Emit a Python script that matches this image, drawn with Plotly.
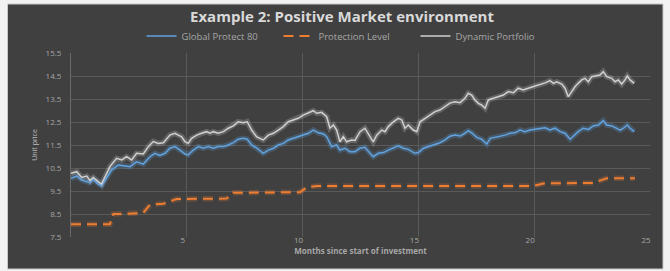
import plotly.graph_objects as go

# ---- data ----
gp_months = [0.0, 0.25, 0.46, 0.82, 0.96, 1.18, 1.32, 1.47, 1.75, 2.04, 2.26, 2.55, 2.83, 3.12, 3.41, 3.62,
             3.84, 4.06, 4.27, 4.49, 4.71, 4.92, 5.06, 5.28, 5.5, 5.72, 5.93, 6.14, 6.36, 6.58, 6.79, 7.01,
             7.22, 7.44, 7.61, 7.8, 8.02, 8.3, 8.52, 8.74, 8.95, 9.17, 9.38, 9.6, 9.81, 10.03, 10.25, 10.46,
             10.68, 10.9, 11.04, 11.25, 11.47, 11.61, 11.83, 12.04, 12.26, 12.48, 12.69, 12.91, 13.05, 13.27,
             13.49, 13.7, 13.92, 14.13, 14.35, 14.56, 14.85, 15.0, 15.22, 15.5, 15.72, 15.93, 16.15, 16.36,
             16.58, 16.8, 17.01, 17.15, 17.3, 17.52, 17.73, 17.95, 18.1, 18.31, 18.53, 18.74, 18.96, 19.17,
             19.39, 19.6, 19.82, 20.04, 20.25, 20.47, 20.68, 20.9, 21.12, 21.33, 21.55, 21.69, 21.9, 22.12,
             22.34, 22.55, 22.77, 22.98, 23.13, 23.35, 23.56, 23.71, 23.85, 24.02, 24.14, 24.32]
global_protect = [10.05, 10.15, 9.98, 9.86, 10.0, 9.79, 9.72, 9.98, 10.41, 10.63, 10.59, 10.56, 10.77, 10.67,
                  10.99, 11.14, 11.05, 11.14, 11.36, 11.43, 11.28, 11.11, 11.07, 11.28, 11.43, 11.36, 11.43,
                  11.36, 11.43, 11.43, 11.5, 11.6, 11.75, 11.79, 11.75, 11.5, 11.36, 11.14, 11.28, 11.36,
                  11.5, 11.57, 11.72, 11.79, 11.86, 11.93, 12.01, 12.15, 12.03, 11.98, 11.86, 11.43, 11.5,
                  11.28, 11.36, 11.21, 11.21, 11.36, 11.4, 11.14, 10.99, 11.14, 11.17, 11.28, 11.36, 11.46,
                  11.36, 11.31, 11.14, 11.17, 11.36, 11.46, 11.54, 11.6, 11.72, 11.88, 11.93, 11.89, 12.01,
                  12.12, 12.03, 11.83, 11.75, 11.54, 11.79, 11.83, 11.89, 11.93, 12.01, 12.03, 12.15, 12.08,
                  12.15, 12.18, 12.2, 12.25, 12.15, 12.23, 12.08, 12.01, 11.75, 11.89, 12.08, 12.23, 12.18,
                  12.33, 12.37, 12.56, 12.37, 12.33, 12.23, 12.15, 12.23, 12.37, 12.23, 12.08]

dp_months = [0.0, 0.25, 0.46, 0.68, 0.82, 0.96, 1.18, 1.32, 1.47, 1.68, 1.97, 2.19, 2.4, 2.62, 2.83, 3.12,
             3.34, 3.55, 3.77, 3.99, 4.27, 4.49, 4.63, 4.78, 4.92, 5.06, 5.21, 5.43, 5.64, 5.86, 6.0, 6.14,
             6.36, 6.58, 6.79, 7.01, 7.22, 7.44, 7.61, 7.8, 8.02, 8.3, 8.52, 8.74, 8.95, 9.17, 9.38, 9.6,
             9.81, 10.03, 10.25, 10.46, 10.61, 10.82, 11.04, 11.18, 11.33, 11.47, 11.61, 11.76, 11.9, 12.12,
             12.26, 12.48, 12.69, 12.91, 13.05, 13.2, 13.42, 13.56, 13.7, 13.92, 14.13, 14.28, 14.42, 14.56,
             14.78, 14.93, 15.07, 15.29, 15.5, 15.72, 15.93, 16.15, 16.36, 16.58, 16.8, 17.01, 17.15, 17.3,
             17.44, 17.59, 17.73, 17.88, 18.02, 18.23, 18.45, 18.67, 18.88, 19.1, 19.31, 19.53, 19.74, 19.96,
             20.18, 20.47, 20.68, 20.83, 20.97, 21.19, 21.33, 21.47, 21.62, 21.76, 21.9, 22.05, 22.19, 22.34,
             22.48, 22.63, 22.84, 22.98, 23.13, 23.35, 23.49, 23.63, 23.78, 23.92, 24.02, 24.14, 24.32]
dynamic_portfolio = [10.27, 10.34, 10.09, 10.15, 9.95, 10.09, 9.9, 9.8, 10.12, 10.56, 10.92, 10.85, 10.99,
                     10.85, 11.14, 11.11, 11.43, 11.65, 11.57, 11.6, 11.93, 12.01, 11.93, 11.86, 11.64, 11.57,
                     11.79, 11.93, 12.01, 12.08, 12.01, 12.08, 12.01, 12.08, 12.23, 12.33, 12.51, 12.47, 12.51,
                     12.15, 11.85, 11.72, 11.93, 12.01, 12.15, 12.3, 12.51, 12.59, 12.66, 12.8, 12.88, 12.99,
                     12.88, 12.92, 12.73, 12.23, 12.37, 12.15, 11.64, 11.86, 11.64, 11.72, 11.7, 12.08, 12.23,
                     11.86, 11.64, 11.93, 12.15, 12.08, 12.3, 12.51, 12.66, 12.59, 12.23, 12.37, 12.15, 12.08,
                     12.51, 12.66, 12.8, 12.95, 13.02, 13.17, 13.32, 13.38, 13.34, 13.53, 13.75, 13.67, 13.46,
                     13.31, 13.24, 13.1, 13.46, 13.53, 13.6, 13.67, 13.82, 13.77, 13.97, 13.89, 13.97, 14.03,
                     14.11, 14.2, 14.3, 14.18, 14.25, 14.15, 13.97, 13.6, 13.82, 14.03, 14.18, 14.33, 14.4,
                     14.25, 14.47, 14.5, 14.54, 14.69, 14.47, 14.4, 14.25, 14.33, 14.15, 14.33, 14.5, 14.33,
                     14.18]

pl_months = [0.0, 1.68, 1.83, 2.12, 3.12, 3.41, 3.99, 4.56, 6.72, 7.01, 9.89, 10.18, 10.61, 19.96, 20.4,
             22.55, 22.84, 23.13, 24.35]
protection_level = [8.05, 8.05, 8.5, 8.5, 8.55, 8.9, 8.95, 9.15, 9.17, 9.42, 9.45, 9.66, 9.72, 9.72, 9.83,
                    9.85, 9.95, 10.05, 10.05]

y_ticks = [7.5, 8.5, 9.5, 10.5, 11.5, 12.5, 13.5, 14.5, 15.5]
x_ticks = [5, 10, 15, 20, 25]

title_text = "Example 2: Positive Market environment"
x_title = "Months since start of investment"
y_title = "Unit price"

# ---- figure ----
FONT = "Open Sans"
BG = "#404040"
GRID = "#5A5A5A"
TXT = "#A6A6A6"
W, H = 670, 271

fig = go.Figure()

# glow layers
fig.add_trace(go.Scatter(x=pl_months, y=protection_level, mode="lines",
                         line=dict(color="rgba(237,125,49,0.22)", width=5.5, dash="10px,6px"),
                         showlegend=False, hoverinfo="skip"))
fig.add_trace(go.Scatter(x=gp_months, y=global_protect, mode="lines",
                         line=dict(color="rgba(91,155,213,0.28)", width=5.5),
                         showlegend=False, hoverinfo="skip"))
fig.add_trace(go.Scatter(x=dp_months, y=dynamic_portfolio, mode="lines",
                         line=dict(color="rgba(217,217,217,0.22)", width=5.5),
                         showlegend=False, hoverinfo="skip"))

# main lines
fig.add_trace(go.Scatter(x=gp_months, y=global_protect, mode="lines", name="Global Protect 80",
                         line=dict(color="#62A3DF", width=1.5)))
fig.add_trace(go.Scatter(x=pl_months, y=protection_level, mode="lines", name="Protection Level",
                         line=dict(color="#ED7D31", width=2, dash="10px,6px")))
fig.add_trace(go.Scatter(x=dp_months, y=dynamic_portfolio, mode="lines", name="Dynamic Portfolio",
                         line=dict(color="#D0D0D0", width=1.5)))

L, R, T, B = 71, 20, 53, 34
PW, PH = W - L - R, H - T - B


def px_x(px):
    return (px - L) / PW


def px_y(py):
    return (H - B - py) / PH


fig.update_layout(
    width=W, height=H,
    margin=dict(l=L, r=R, t=T, b=B, autoexpand=False),
    paper_bgcolor="#F2F2F2",
    plot_bgcolor="rgba(0,0,0,0)",
    font=dict(family=FONT, color=TXT, size=9),
    title=dict(text="<b>" + title_text + "</b>", x=342 / W, xref="container", xanchor="center",
               y=1 - 17 / H, yref="container", yanchor="middle",
               font=dict(family=FONT, size=15, color="#D9D9D9")),
    legend=dict(orientation="h", x=347 / W, xref="container", xanchor="center",
                y=1 - 36 / H, yref="container", yanchor="middle",
                font=dict(family=FONT, size=9.5, color=TXT), itemwidth=30, entrywidth=92,
                bgcolor="rgba(0,0,0,0)"),
    shapes=[dict(type="rect", xref="paper", yref="paper", layer="below",
                 x0=px_x(7.5), x1=px_x(663), y0=px_y(269), y1=px_y(4),
                 fillcolor=BG, line=dict(color="#C8C8C8", width=1))],
    showlegend=True,
)

fig.update_xaxes(range=[0, 25], tickvals=x_ticks, showgrid=True, gridcolor=GRID, gridwidth=1,
                 zeroline=False, showline=False, ticks="", ticklabelstandoff=-3, ticklabelshift=-4,
                 automargin=False, tickfont=dict(family=FONT, size=8, color=TXT),
                 title=dict(text="<b>" + x_title + "</b>", standoff=3,
                            font=dict(family=FONT, size=8, color=TXT)))
fig.update_yaxes(range=[7.5, 15.5], tickvals=y_ticks, tickformat=".1f", showgrid=True,
                 gridcolor=GRID, gridwidth=1, zeroline=False, showline=True, linecolor="#6A6A6A",
                 ticks="", ticklabelstandoff=7, automargin=False,
                 tickfont=dict(family=FONT, size=8, color=TXT),
                 title=dict(text=y_title, standoff=7, font=dict(family=FONT, size=7, color="#BFBFBF")))

fig.write_html("out.html", config={"displayModeBar": False},
               post_script="document.body.style.margin='0';document.body.style.padding='0';"
                           "document.body.style.overflow='hidden';")
